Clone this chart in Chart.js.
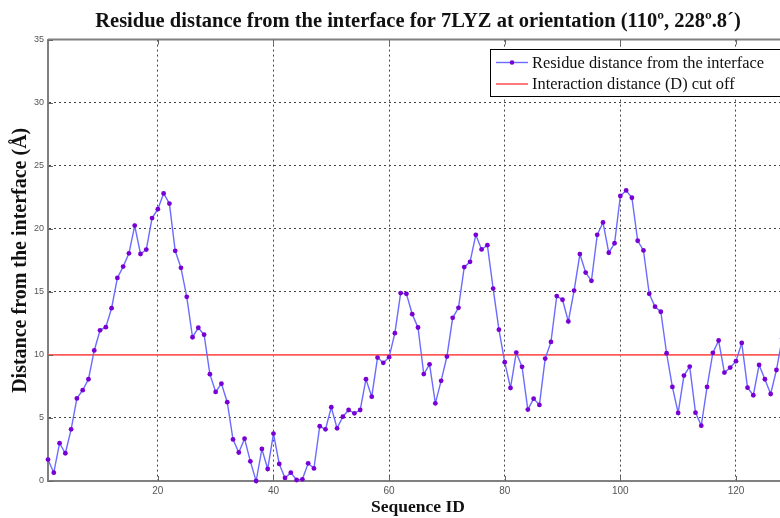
<!DOCTYPE html>
<html>
<head>
<meta charset="utf-8">
<script src="https://cdn.jsdelivr.net/npm/chart.js@4/dist/chart.umd.min.js"></script>
<style>
    html, body { margin: 0; padding: 0; background: #fff; overflow: hidden; }
    #wrap { width: 780px; height: 518px; overflow: hidden; }
</style>
</head>
<body>
<div id="wrap"><canvas id="distanceChart" width="792" height="518"></canvas></div>
<script>
// Datos
const residueIds = Array.from({ length: 129 }, (_, i) => i + 1);
const residueDistance = [
    1.7, 0.66, 3.0, 2.2, 4.1, 6.55, 7.2, 8.07, 10.35, 11.95,
    12.2, 13.7, 16.1, 17.0, 18.05, 20.25, 18.0, 18.35, 20.85, 21.55,
    22.8, 22.0, 18.25, 16.9, 14.6, 11.4, 12.15, 11.6, 8.47, 7.06,
    7.72, 6.25, 3.3, 2.26, 3.36, 1.56, 0.0, 2.54, 0.95, 3.76,
    1.35, 0.24, 0.66, 0.08, 0.13, 1.4, 1.0, 4.34, 4.1, 5.85,
    4.18, 5.1, 5.63, 5.37, 5.63, 8.07, 6.69, 9.79, 9.37, 9.82,
    11.72, 14.9, 14.84, 13.23, 12.17, 8.48, 9.25, 6.16, 7.94, 9.87,
    12.94, 13.73, 16.96, 17.38, 19.52, 18.36, 18.7, 15.26, 12.0, 9.42,
    7.38, 10.18, 9.05, 5.66, 6.53, 6.03, 9.71, 11.03, 14.66, 14.37,
    12.65, 15.1, 17.99, 16.53, 15.87, 19.52, 20.5, 18.1, 18.85, 22.6,
    23.04, 22.46, 19.05, 18.28, 14.84, 13.82, 13.42, 10.13, 7.46, 5.4,
    8.36, 9.07, 5.42, 4.39, 7.46, 10.16, 11.14, 8.6, 8.99, 9.5,
    10.95, 7.4, 6.8, 9.2, 8.07, 6.9, 8.8, 11.3, 10.0
];
const cutoffDistance = 10;
const xTicks = [20, 40, 60, 80, 100, 120];
const yTicks = [0, 5, 10, 15, 20, 25, 30, 35];
const seriesLabels = ['Residue distance from the interface', 'Interaction distance (D) cut off'];

const serif = "'Liberation Serif', 'Times New Roman', serif";

/**
 * Caja del eje (lados superior y derecho) y marcas interiores
 */
const axesBox = {
    id: 'axesBox',
    afterDatasetsDraw(chart) {
        const { ctx, chartArea: a, scales: { x, y } } = chart;
        ctx.save();
        ctx.strokeStyle = '#808080';
        ctx.lineWidth = 2;
        ctx.beginPath();
        ctx.moveTo(a.left, a.top);
        ctx.lineTo(a.right, a.top);
        ctx.lineTo(a.right, a.bottom);
        ctx.stroke();

        ctx.strokeStyle = '#666';
        ctx.lineWidth = 1;
        ctx.beginPath();
        xTicks.forEach(v => {
            const px = Math.round(x.getPixelForValue(v)) + 0.5;
            ctx.moveTo(px, a.bottom); ctx.lineTo(px, a.bottom - 5);
            ctx.moveTo(px, a.top); ctx.lineTo(px, a.top + 5);
        });
        yTicks.forEach(v => {
            const py = Math.round(y.getPixelForValue(v)) + 0.5;
            ctx.moveTo(a.left, py); ctx.lineTo(a.left + 5, py);
        });
        ctx.stroke();
        ctx.restore();
    }
};

/**
 * Leyenda dentro del área del gráfico
 */
const boxLegend = {
    id: 'boxLegend',
    afterDraw(chart) {
        const { ctx } = chart;
        const left = 490.5, top = 49.5, w = 320, h = 47;
        ctx.save();
        ctx.fillStyle = '#fff';
        ctx.fillRect(left, top, w, h);
        ctx.strokeStyle = '#000';
        ctx.lineWidth = 1;
        ctx.strokeRect(left, top, w, h);

        ctx.font = '16.4px ' + serif;
        ctx.textBaseline = 'middle';
        ctx.textAlign = 'left';
        const rows = [62.5, 84];
        chart.data.datasets.forEach((ds, i) => {
            const yy = rows[i];
            ctx.strokeStyle = ds.borderColor;
            ctx.lineWidth = ds.borderWidth;
            ctx.beginPath();
            ctx.moveTo(496, yy);
            ctx.lineTo(528, yy);
            ctx.stroke();
            if (ds.pointRadius > 0) {
                ctx.fillStyle = ds.pointBackgroundColor;
                ctx.beginPath();
                ctx.arc(512, yy, 2.3, 0, Math.PI * 2);
                ctx.fill();
            }
            ctx.fillStyle = '#111';
            ctx.fillText(ds.label, 532, yy + 1);
        });
        ctx.restore();
    }
};

const ctx = document.getElementById('distanceChart');
new Chart(ctx, {
    type: 'line',
    data: {
        datasets: [{
            label: seriesLabels[0],
            data: residueIds.map((id, i) => ({ x: id, y: residueDistance[i] })),
            borderColor: '#6b6bff',
            borderWidth: 1.4,
            pointRadius: 2.4,
            pointBackgroundColor: '#7800d4',
            pointBorderWidth: 0,
            tension: 0,
            clip: false,
            order: 0,
        }, {
            label: seriesLabels[1],
            data: [{ x: residueIds[0], y: cutoffDistance }, { x: residueIds[residueIds.length - 1], y: cutoffDistance }],
            borderColor: '#ff5a5a',
            borderWidth: 1.6,
            pointRadius: 0,
            order: 1,
        }],
    },
    options: {
        responsive: false,
        animation: false,
        devicePixelRatio: 1,
        layout: { padding: { left: 0, right: 4, top: 0, bottom: 0 } },
        scales: {
            x: {
                type: 'linear',
                min: 1,
                max: 129,
                afterBuildTicks: s => { s.ticks = xTicks.map(v => ({ value: v })); },
                afterFit: s => { s.height = 37; },
                grid: { color: '#444', lineWidth: 1, drawTicks: false },
                border: { display: true, color: '#808080', width: 2, dash: [2, 3] },
                ticks: {
                    padding: 4,
                    color: '#555',
                    font: { family: "'Liberation Sans', Arial, sans-serif", size: 10 },
                },
                title: {
                    display: true,
                    text: 'Sequence ID',
                    color: '#111',
                    padding: { top: 0, bottom: 0 },
                    font: { family: serif, size: 17.5, weight: 'bold' },
                },
            },
            y: {
                min: 0,
                max: 35,
                afterBuildTicks: s => { s.ticks = yTicks.map(v => ({ value: v })); },
                afterFit: s => { s.width = 48; },
                grid: { color: '#444', lineWidth: 1, drawTicks: false },
                border: { display: true, color: '#808080', width: 2, dash: [2, 3] },
                ticks: {
                    padding: 4,
                    color: '#555',
                    font: { family: "'Liberation Sans Narrow', 'Liberation Sans', Arial, sans-serif", size: 9 },
                },
                title: {
                    display: true,
                    text: 'Distance from the interface (Å)',
                    color: '#111',
                    padding: { top: 9, bottom: 0 },
                    font: { family: serif, size: 20, weight: 'bold' },
                },
            },
        },
        plugins: {
            legend: { display: false },
            tooltip: { enabled: false },
            title: {
                display: true,
                fullSize: false,
                text: 'Residue distance from the interface for 7LYZ at orientation (110º, 228º.8´)',
                color: '#111',
                padding: { top: 9, bottom: 6 },
                font: { family: serif, size: 20.5, weight: 'bold' },
            },
        },
    },
    plugins: [axesBox, boxLegend],
});
</script>
</body>
</html>
